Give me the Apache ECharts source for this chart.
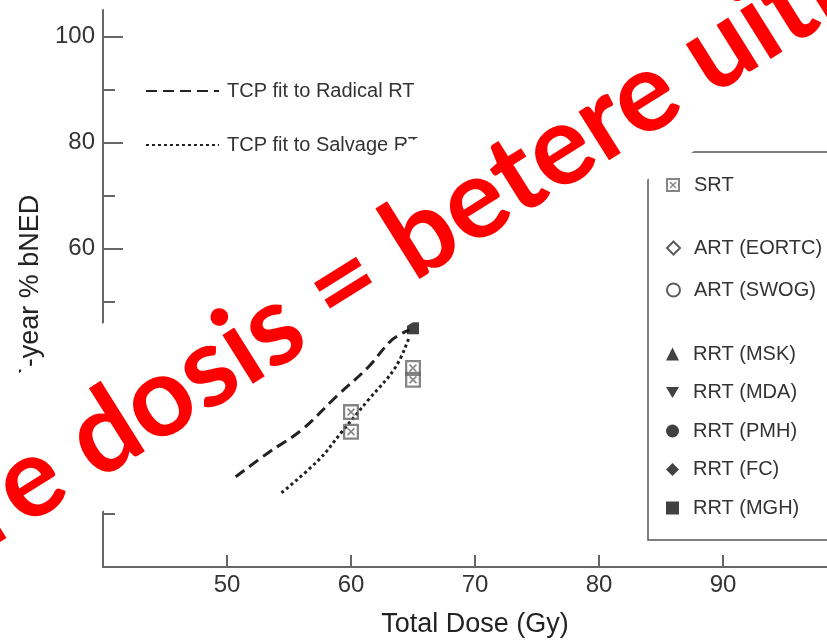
<!DOCTYPE html>
<html>
<head>
<meta charset="utf-8">
<script src="https://cdn.jsdelivr.net/npm/echarts/dist/echarts.min.js"></script>
<style>
  html, body { margin: 0; padding: 0; background: #fff; }
  #chart { width: 827px; height: 641px; }
</style>
</head>
<body>
<div id="chart"></div>
<script>
// fitted TCP curves
var radicalDose = [50.7, 53.3, 56.0, 58.8, 61.4, 63.3, 64.7];
var radicalBned = [17.0, 21.5, 25.8, 32.1, 37.7, 42.8, 44.7];
var salvageDose = [54.4, 57.4, 59.2, 61.4, 63.6, 64.7];
var salvageBned = [14.0, 20.2, 25.3, 31.5, 37.7, 43.4];

// observed points (only the ones not hidden by the banner)
var srtDose = [60, 60, 65, 65];
var srtBned = [29.2, 25.5, 37.5, 35.3];
var mghDose = [65];
var mghBned = [45];

var xTicks = [50, 60, 70, 80, 90, 100];
var yMajorTicks = [0, 20, 40, 60, 80, 100];
var yLabels = [20, 40, 60, 80, 100];
var yMinorTicks = [10, 30, 50, 70, 90];

var lineNames = ['TCP fit to Radical RT', 'TCP fit to Salvage RT'];
var srtNames = ['SRT'];
var artNames = ['ART (EORTC)', 'ART (SWOG)'];
var rrtNames = ['RRT (MSK)', 'RRT (MDA)', 'RRT (PMH)', 'RRT (FC)', 'RRT (MGH)'];

var bannerText = 'Hogere dosis = betere uitkomst';

function zip(a, b) {
  return a.map(function (v, i) { return [v, b[i]]; });
}

var srtSymbol = 'path://M0,0H14V14H0Z M2,12H12V2H2Z M3.5,4.5L4.5,3.5L10.5,9.5L9.5,10.5Z M9.5,3.5L10.5,4.5L4.5,10.5L3.5,9.5Z';
var downTriangle = 'path://M0,0L12,0L6,10Z';

var myChart = echarts.init(document.getElementById('chart'));

var axisColor = '#666';
var font = 'Liberation Sans';

function scatter(name, symbol, data, style, extra) {
  var s = {
    type: 'scatter',
    name: name,
    symbol: symbol,
    symbolSize: 12,
    data: data,
    itemStyle: style,
    z: 3
  };
  return Object.assign(s, extra || {});
}

var legendText = { fontFamily: font, fontSize: 20, color: '#333', padding: [0, 0, 0, 9] };

var option = {
  backgroundColor: '#fff',
  animation: false,
  grid: { left: 103, top: 10, width: 744, height: 557, outerBoundsMode: 'none' },
  xAxis: {
    type: 'value',
    min: 40,
    max: 100,
    interval: 10,
    name: 'Total Dose (Gy)',
    nameLocation: 'middle',
    nameGap: 44,
    nameTextStyle: { fontFamily: font, fontSize: 27, color: '#222' },
    axisLine: { lineStyle: { color: axisColor, width: 2 } },
    axisTick: { inside: true, length: 12, customValues: xTicks, lineStyle: { color: axisColor, width: 2 } },
    axisLabel: { customValues: xTicks, fontFamily: font, fontSize: 24, color: '#333', margin: 6 },
    splitLine: { show: false }
  },
  yAxis: [
    {
      type: 'value',
      min: 0,
      max: 105,
      position: 'left',
      name: '5-year % bNED',
      nameLocation: 'middle',
      nameGap: 58,
      nameTextStyle: { fontFamily: font, fontSize: 27, color: '#222' },
      axisLine: { show: true, lineStyle: { color: axisColor, width: 2 } },
      axisTick: { show: true, inside: true, length: 20, customValues: yMajorTicks, lineStyle: { color: axisColor, width: 2 } },
      axisLabel: { customValues: yLabels, fontFamily: font, fontSize: 24, color: '#333', margin: 8 },
      splitLine: { show: false }
    },
    {
      type: 'value',
      min: 0,
      max: 105,
      position: 'left',
      offset: 0,
      axisLine: { show: false },
      axisTick: { show: true, inside: true, length: 12, customValues: yMinorTicks, lineStyle: { color: axisColor, width: 2 } },
      axisLabel: { show: false },
      splitLine: { show: false }
    }
  ],
  legend: [
    {
      data: lineNames,
      orient: 'vertical',
      left: 145,
      top: 81,
      padding: 0,
      itemWidth: 73,
      itemHeight: 20,
      itemGap: 34,
      itemStyle: { opacity: 0 },
      textStyle: { fontFamily: font, fontSize: 20, color: '#333', padding: [0, 0, 0, 3] }
    },
    {
      data: srtNames,
      orient: 'vertical',
      left: 666,
      top: 175,
      padding: 0,
      itemWidth: 14,
      itemHeight: 14,
      textStyle: legendText
    },
    {
      data: artNames,
      orient: 'vertical',
      left: 666,
      top: 238,
      padding: 0,
      itemWidth: 13,
      itemHeight: 13,
      itemGap: 22,
      textStyle: legendText
    },
    {
      data: [rrtNames[0], { name: rrtNames[1], icon: downTriangle }, rrtNames[2], rrtNames[3], rrtNames[4]],
      orient: 'vertical',
      left: 666,
      top: 344,
      padding: 0,
      itemWidth: 13,
      itemHeight: 13,
      itemGap: 18.5,
      textStyle: legendText
    }
  ],
  series: [
    {
      type: 'line',
      name: lineNames[0],
      data: zip(radicalDose, radicalBned),
      symbol: 'none',
      smooth: 0.4,
      lineStyle: { color: '#222', width: 3, type: [11, 6] },
      itemStyle: { color: '#222' }
    },
    {
      type: 'line',
      name: lineNames[1],
      data: zip(salvageDose, salvageBned),
      symbol: 'none',
      smooth: 0.4,
      lineStyle: { color: '#222', width: 3, type: [3, 3] },
      itemStyle: { color: '#222' }
    },
    scatter('SRT', srtSymbol, zip(srtDose, srtBned), { color: '#666' }, { symbolSize: 16 }),
    scatter('ART (EORTC)', 'diamond', [], { color: '#fff', borderColor: '#333', borderWidth: 1.5 }),
    scatter('ART (SWOG)', 'emptyCircle', [], { color: '#333' }),
    scatter('RRT (MSK)', 'triangle', [], { color: '#111' }),
    scatter('RRT (MDA)', downTriangle, [], { color: '#111' }),
    scatter('RRT (PMH)', 'circle', [], { color: '#111' }, { symbolSize: 10 }),
    scatter('RRT (FC)', 'diamond', [], { color: '#111' }),
    scatter('RRT (MGH)', 'rect', zip(mghDose, mghBned), { color: '#111' }, { symbolSize: 12 })
  ],
  graphic: [
    {
      type: 'rect',
      z: 1,
      shape: { x: 648, y: 152, width: 300, height: 388 },
      style: { fill: 'none', stroke: '#555', lineWidth: 1.5 }
    },
    {
      // white banner laid over the chart
      type: 'polygon',
      z: 100,
      shape: { points: [[-20, 396], [850, -118], [850, 56], [-20, 586]] },
      style: { fill: '#fff' }
    },
    {
      type: 'text',
      z: 101,
      x: -256,
      y: 660,
      rotation: 0.56,
      style: {
        text: bannerText,
        x: 0,
        y: 0,
        fill: '#ff0000',
        font: 'bold 112px Lato',
        align: 'left',
        verticalAlign: 'middle'
      }
    }
  ]
};

myChart.setOption(option);
</script>
</body>
</html>
